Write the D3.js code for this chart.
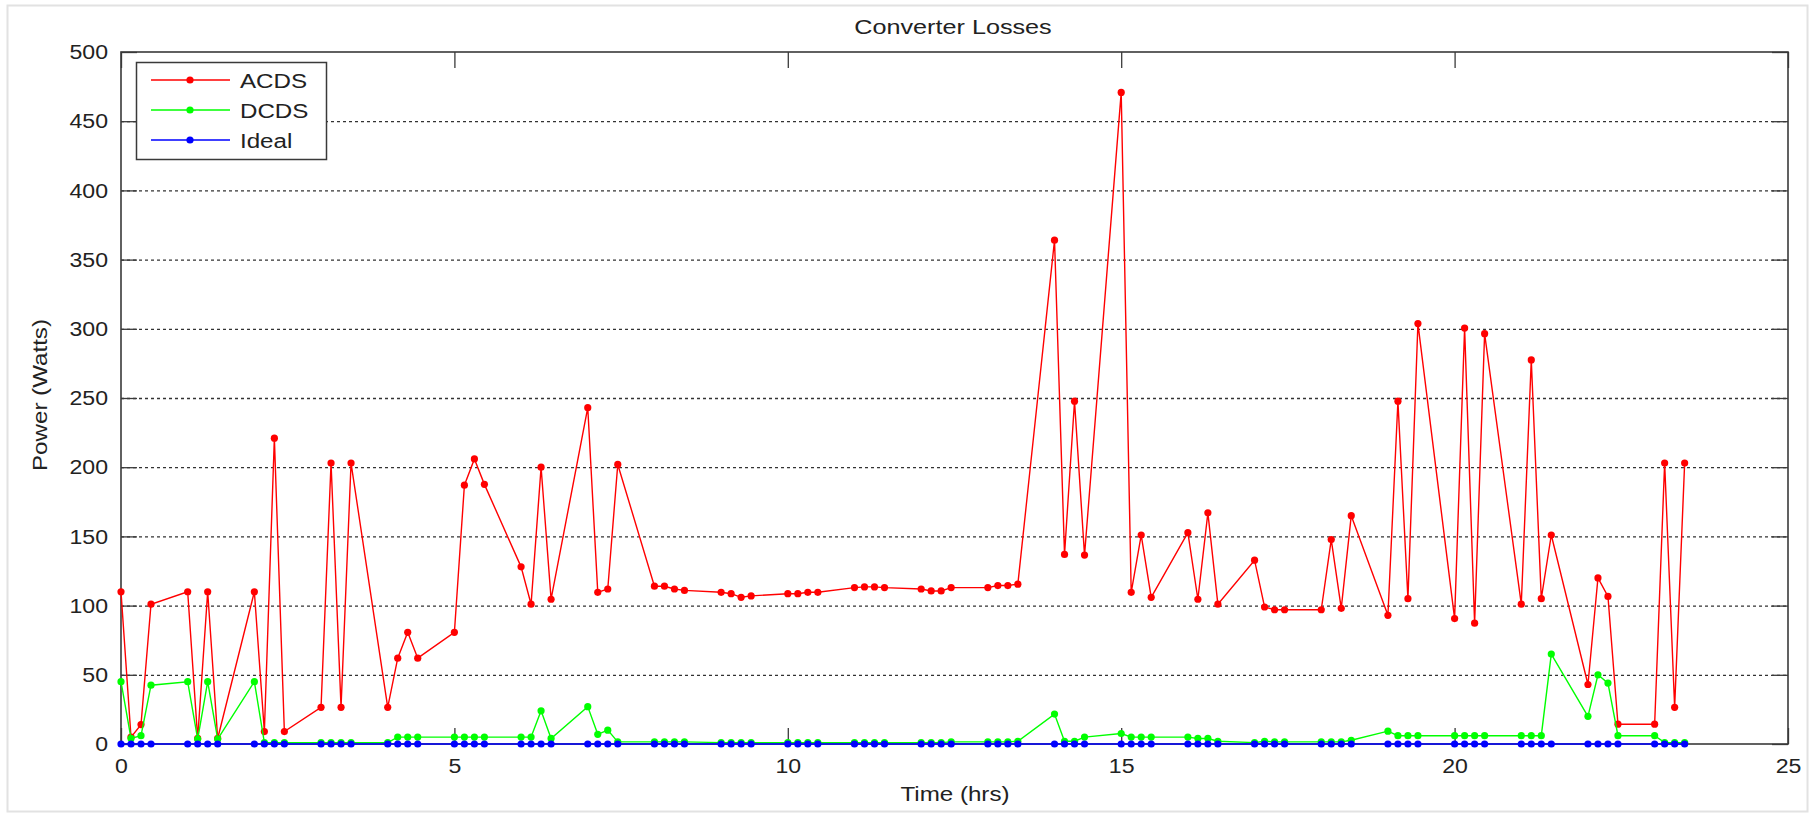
<!DOCTYPE html>
<html>
<head>
<meta charset="utf-8">
<script src="https://cdn.jsdelivr.net/npm/d3@7"></script>
<style>
  body { margin: 0; background: #fff; }
  svg { display: block; font-family: "Liberation Sans", Arial, sans-serif; }
</style>
</head>
<body>
<svg id="chart" width="1816" height="816"></svg>
<script>
// sample times (hrs)
var times = [
  0, 0.15, 0.3, 0.45, 1, 1.15, 1.3, 1.45, 2, 2.15, 2.3, 2.45,
  3, 3.15, 3.3, 3.45, 4, 4.15, 4.3, 4.45, 5, 5.15, 5.3, 5.45,
  6, 6.15, 6.3, 6.45, 7, 7.15, 7.3, 7.45, 8, 8.15, 8.3, 8.45,
  9, 9.15, 9.3, 9.45, 10, 10.15, 10.3, 10.45, 11, 11.15, 11.3, 11.45,
  12, 12.15, 12.3, 12.45, 13, 13.15, 13.3, 13.45, 14, 14.15, 14.3, 14.45,
  15, 15.15, 15.3, 15.45, 16, 16.15, 16.3, 16.45, 17, 17.15, 17.3, 17.45,
  18, 18.15, 18.3, 18.45, 19, 19.15, 19.3, 19.45, 20, 20.15, 20.3, 20.45,
  21, 21.15, 21.3, 21.45, 22, 22.15, 22.3, 22.45, 23, 23.15, 23.3, 23.45
];

var acds = [
  110, 5, 14, 101, 110, 4, 110, 4, 110, 9, 221, 9,
  26.5, 203, 26.5, 203, 26.5, 62, 80.7, 62, 80.7, 187, 206, 187.6,
  128, 101, 200, 104.6, 243, 109.6, 112, 202, 114, 114, 112, 111,
  109.6, 108.6, 106, 107, 108.6, 108.6, 109.6, 109.6, 113, 113.5, 113.5, 113,
  112, 110.6, 110.6, 113, 113, 114.5, 114.5, 115.5, 364, 137, 247.7, 136.5,
  470.8, 109.6, 151, 106, 152.7, 104.6, 167, 101, 132.8, 99, 97, 97,
  97, 147.7, 98, 165, 93, 247.7, 105, 303.8, 90.6, 300.5, 87.3, 296.5,
  101, 277.5, 105, 151, 43, 120, 106.6, 14.3, 14.3, 203, 26.5, 203
];

var dcds = [
  45, 4, 6, 42.5, 45, 3.6, 45, 3.6, 45, 1, 1, 1,
  1, 1, 1, 1, 1, 5, 5, 5, 5, 5, 5, 5,
  5, 5, 24, 4, 27, 7, 10, 1.5, 1.5, 1.5, 1.5, 1.5,
  1, 1, 1, 1, 1, 1, 1, 1, 1, 1, 1, 1,
  1, 1, 1, 1.5, 1.5, 1.5, 1.5, 2, 21.6, 2, 2, 5,
  7.6, 5, 5, 5, 5, 4, 4, 2, 1, 2, 1.5, 1.5,
  1.5, 1.5, 1.5, 2.7, 9.3, 6, 6, 6, 6, 6, 6, 6,
  6, 6, 6, 65, 20, 50, 44, 6, 6, 1, 1, 1
];

var ideal = [
  0, 0, 0, 0, 0, 0, 0, 0, 0, 0, 0, 0,
  0, 0, 0, 0, 0, 0, 0, 0, 0, 0, 0, 0,
  0, 0, 0, 0, 0, 0, 0, 0, 0, 0, 0, 0,
  0, 0, 0, 0, 0, 0, 0, 0, 0, 0, 0, 0,
  0, 0, 0, 0, 0, 0, 0, 0, 0, 0, 0, 0,
  0, 0, 0, 0, 0, 0, 0, 0, 0, 0, 0, 0,
  0, 0, 0, 0, 0, 0, 0, 0, 0, 0, 0, 0,
  0, 0, 0, 0, 0, 0, 0, 0, 0, 0, 0, 0
];

var seriesNames = ["ACDS", "DCDS", "Ideal"];
var seriesColors = ["#ff0000", "#00ff00", "#0000ff"];
var xTicks = [0, 5, 10, 15, 20, 25];
var yTicks = [0, 50, 100, 150, 200, 250, 300, 350, 400, 450, 500];

var plotL = 121, plotR = 1788, plotT = 52, plotB = 744;
var tickLen = 16;

var svg = d3.select("#chart");

// figure frame
svg.append("rect")
  .attr("x", 7.5).attr("y", 5.5)
  .attr("width", 1800).attr("height", 806)
  .attr("fill", "#fff")
  .attr("stroke", "#e2e2e2")
  .attr("stroke-width", 2);

var x = d3.scaleLinear().domain([0, 25]).range([plotL, plotR]);
var y = d3.scaleLinear().domain([0, 500]).range([plotB, plotT]);

// dotted grid
svg.append("g")
  .selectAll("line")
  .data(yTicks.filter(function (d) { return d > 0 && d < 500; }))
  .enter().append("line")
  .attr("x1", plotL).attr("x2", plotR)
  .attr("y1", function (d) { return y(d) + 0.5; })
  .attr("y2", function (d) { return y(d) + 0.5; })
  .attr("stroke", "#333")
  .attr("stroke-width", 1.3)
  .attr("stroke-dasharray", "3,3");

var axisColor = "#3a3a3a";
function styleAxis(g) {
  g.select(".domain").remove();
  g.selectAll(".tick line").attr("stroke", axisColor).attr("stroke-width", 1.3);
  g.selectAll(".tick text")
    .attr("fill", "#222")
    .attr("font-size", 21)
    .attr("font-family", "Liberation Sans, Arial, sans-serif");
}

// bottom axis with labels
var gx = svg.append("g")
  .attr("transform", "translate(0," + plotB + ")")
  .call(d3.axisBottom(x).tickValues(xTicks).tickSizeInner(-tickLen).tickSizeOuter(0).tickPadding(9).tickFormat(d3.format("d")));
styleAxis(gx);
gx.selectAll(".tick text").attr("transform", "scale(1.1,1)").attr("dy", "0.95em");

// top axis, ticks only
var gxt = svg.append("g")
  .attr("transform", "translate(0," + plotT + ")")
  .call(d3.axisTop(x).tickValues(xTicks).tickSizeInner(-tickLen).tickSizeOuter(0).tickFormat(""));
styleAxis(gxt);

// left axis with labels
var gy = svg.append("g")
  .attr("transform", "translate(" + plotL + ",0)")
  .call(d3.axisLeft(y).tickValues(yTicks).tickSizeInner(-tickLen).tickSizeOuter(0).tickPadding(13).tickFormat(d3.format("d")));
styleAxis(gy);
gy.selectAll(".tick text").attr("x", -13 / 1.1).attr("transform", "scale(1.1,1)");

// right axis, ticks only
var gyr = svg.append("g")
  .attr("transform", "translate(" + plotR + ",0)")
  .call(d3.axisRight(y).tickValues(yTicks).tickSizeInner(-tickLen).tickSizeOuter(0).tickFormat(""));
styleAxis(gyr);

// axes box
svg.append("rect")
  .attr("x", plotL).attr("y", plotT)
  .attr("width", plotR - plotL).attr("height", plotB - plotT)
  .attr("fill", "none")
  .attr("stroke", axisColor)
  .attr("stroke-width", 1.6);

// series
var allSeries = [acds, dcds, ideal];
var line = d3.line()
  .x(function (d, i) { return x(times[i]); })
  .y(function (d) { return y(d); });

allSeries.forEach(function (vals, k) {
  var g = svg.append("g");
  g.append("path")
    .datum(vals)
    .attr("d", line)
    .attr("fill", "none")
    .attr("stroke", seriesColors[k])
    .attr("stroke-width", 1.4);
  g.selectAll("circle")
    .data(vals)
    .enter().append("circle")
    .attr("cx", function (d, i) { return x(times[i]); })
    .attr("cy", function (d) { return y(d); })
    .attr("r", 3.6)
    .attr("fill", seriesColors[k]);
});

// title and axis labels
svg.append("text")
  .attr("transform", "translate(953,34) scale(1.2,1)")
  .attr("text-anchor", "middle")
  .attr("font-size", 21)
  .attr("fill", "#222")
  .text("Converter Losses");

svg.append("text")
  .attr("transform", "translate(955,801) scale(1.15,1)")
  .attr("text-anchor", "middle")
  .attr("font-size", 21)
  .attr("fill", "#222")
  .text("Time (hrs)");

svg.append("text")
  .attr("transform", "translate(47,395) rotate(-90) scale(1.15,1)")
  .attr("text-anchor", "middle")
  .attr("font-size", 21)
  .attr("fill", "#222")
  .text("Power (Watts)");

// legend
var lg = svg.append("g");
lg.append("rect")
  .attr("x", 136.5).attr("y", 62.5)
  .attr("width", 190).attr("height", 97)
  .attr("fill", "#fff")
  .attr("stroke", axisColor)
  .attr("stroke-width", 1.5);

seriesNames.forEach(function (name, k) {
  var ly = 80 + k * 30;
  lg.append("line")
    .attr("x1", 151).attr("x2", 230)
    .attr("y1", ly).attr("y2", ly)
    .attr("stroke", seriesColors[k])
    .attr("stroke-width", 1.4);
  lg.append("circle")
    .attr("cx", 190).attr("cy", ly).attr("r", 3.6)
    .attr("fill", seriesColors[k]);
  lg.append("text")
    .attr("transform", "translate(240," + (ly + 8) + ") scale(1.15,1)")
    .attr("font-size", 21)
    .attr("fill", "#222")
    .text(name);
});
</script>
</body>
</html>
